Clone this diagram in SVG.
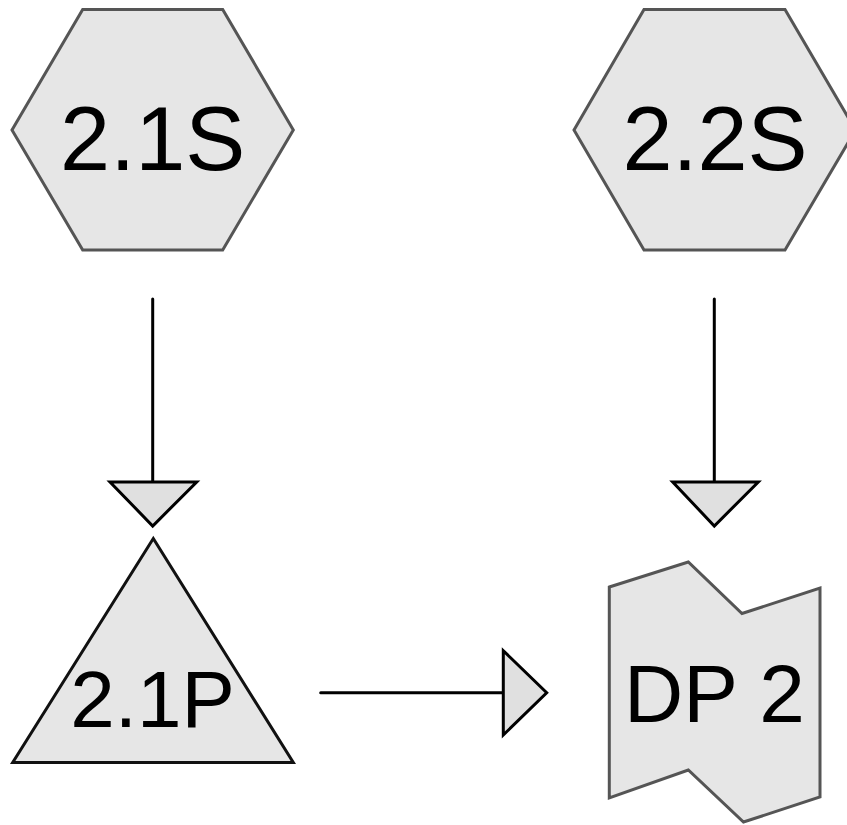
<svg xmlns="http://www.w3.org/2000/svg" width="847" height="825" viewBox="0 0 847 825">
<style>
.shape{fill:#e6e6e6;stroke:#555555;stroke-width:3;stroke-linejoin:miter}
.dark{stroke:#111111}
.lbl{font-family:"Liberation Sans",Arial,Helvetica,sans-serif;fill:#000000;text-anchor:middle}
.edge{stroke:#000000;stroke-width:3;stroke-linecap:round;fill:none}
.head{fill:#e0e0e0;stroke:#000000;stroke-width:3;stroke-linejoin:miter}
</style>
<rect width="847" height="825" fill="#ffffff"/>
<g id="node-2.1S">
<polygon class="shape" points="82.7,9.5 222.7,9.5 293.3,130 222.7,250 82.7,250 12,130"/>
<text class="lbl" x="152.7" y="169.5" font-size="90">2.1S</text>
</g>
<g id="node-2.2S">
<polygon class="shape" points="644,9.5 785,9.5 855.5,130 785,250 644,250 574,130"/>
<text class="lbl" x="715" y="169.5" font-size="90">2.2S</text>
</g>
<g id="node-2.1P">
<polygon class="shape dark" points="153.3,538.5 293.3,762.5 12.7,762.5"/>
<text class="lbl" x="152.5" y="726.5" font-size="80">2.1P</text>
</g>
<g id="node-DP2">
<polygon class="shape" points="609.3,587 688.3,562 742,613.5 820,588 820,797 743.5,822 688.3,770 609.3,798"/>
<text class="lbl" x="714.5" y="721.5" font-size="82">DP 2</text>
</g>
<g id="connectors">
<line class="edge" x1="152.7" y1="299" x2="152.7" y2="482"/>
<polygon class="head" points="110,482 196.7,482 152.7,526"/>
<line class="edge" x1="714.3" y1="299" x2="714.3" y2="482"/>
<polygon class="head" points="672.7,482 758.3,482 714.3,526"/>
<line class="edge" x1="320.7" y1="692.7" x2="503.3" y2="692.7"/>
<polygon class="head" points="503.3,650.7 503.3,735 546.7,692.7"/>
</g>
</svg>
